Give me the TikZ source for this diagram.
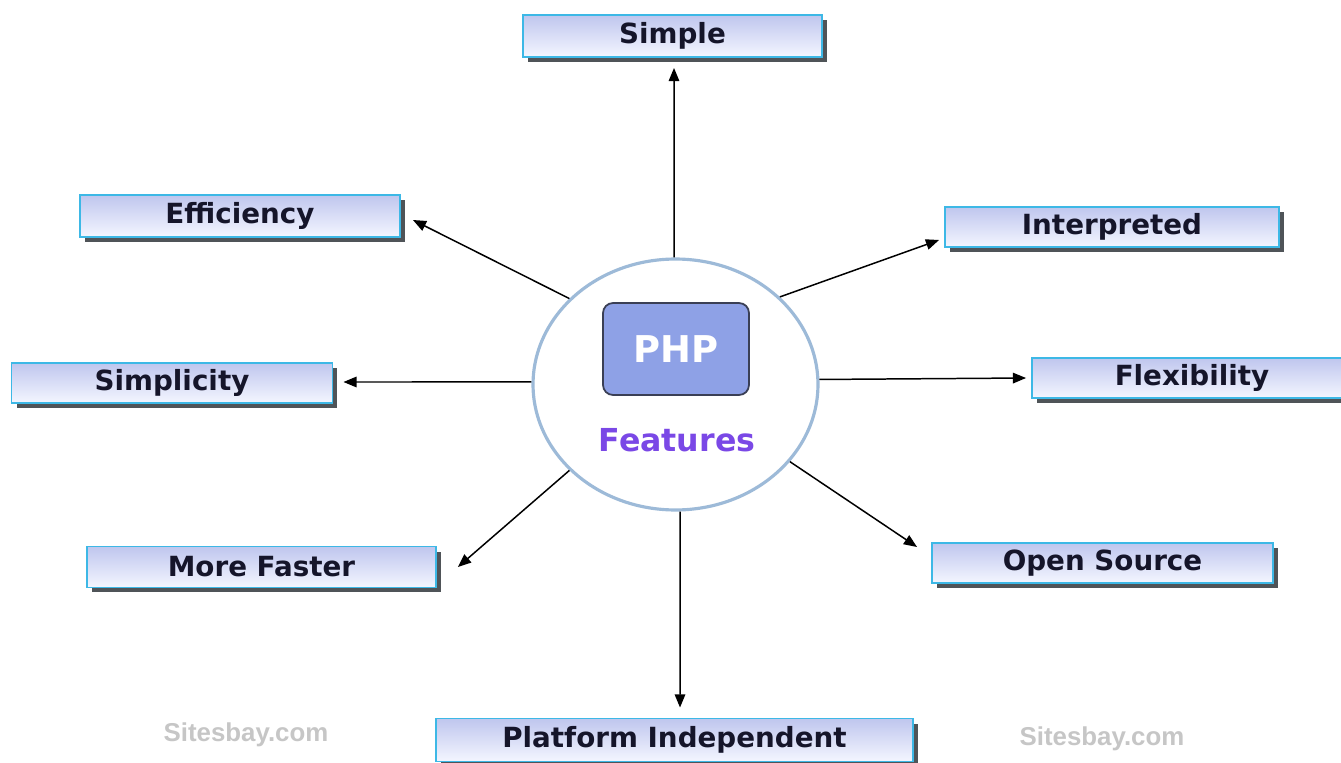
\documentclass[tikz,border=0pt]{standalone}
\usepackage{fontspec}
\setmainfont{DejaVu Sans}
\newfontfamily\wmfont{Liberation Sans}
\usetikzlibrary{shapes.geometric,shadows,arrows.meta}
\definecolor{boxborder}{HTML}{3DB8E6}
\definecolor{boxtop}{HTML}{BFC6EE}
\definecolor{boxbot}{HTML}{F4F6FF}
\definecolor{shadowgray}{HTML}{4F5458}
\definecolor{circcol}{HTML}{9DBAD8}
\definecolor{phpfill}{HTML}{8EA1E6}
\definecolor{phpborder}{HTML}{3A3F55}
\definecolor{featcol}{HTML}{7A48E6}
\definecolor{txtcol}{HTML}{15152A}
\definecolor{wmcol}{HTML}{C6C6C6}
\tikzset{
  featbox/.style={draw=boxborder, line width=1.1pt, top color=boxtop, bottom color=boxbot,
    text=txtcol, inner sep=0pt, font=\bfseries\fontsize{15.8}{18}\selectfont,
    drop shadow={shadow xshift=0.1cm, shadow yshift=-0.1cm, fill=shadowgray, opacity=1}},
  arr/.style={draw=black, line width=0.85pt, -{Triangle[length=7.5pt,width=6pt]}},
  wm/.style={text=wmcol, font=\wmfont\bfseries\fontsize{14.7}{17}\selectfont, inner sep=0pt}
}
\begin{document}
\begin{tikzpicture}[x=0.02cm,y=-0.02cm]
\useasboundingbox (0,0) rectangle (1341,763);
\fill[white] (0,0) rectangle (1341,763);
% feature boxes
\node[featbox, minimum width=5.98cm, minimum height=0.84cm] (simple) at (672.5,36) {Simple};
\node[featbox, minimum width=6.4cm, minimum height=0.84cm] (eff) at (240,216) {Efficiency};
\node[featbox, minimum width=6.68cm, minimum height=0.8cm] (interp) at (1112,227) {Interpreted};
\node[featbox, minimum width=6.42cm, minimum height=0.8cm] (simpl) at (172,383) {Simplicity};
\node[featbox, minimum width=6.4cm, minimum height=0.8cm] (flex) at (1192,378) {Flexibility};
\node[featbox, minimum width=6.98cm, minimum height=0.82cm] (mf) at (261.5,567) {More Faster};
\node[featbox, minimum width=6.82cm, minimum height=0.8cm] (os) at (1102.5,563) {Open Source};
\node[featbox, minimum width=9.54cm, minimum height=0.86cm] (pi) at (674.5,740) {Platform Independent};
% central circle
\node[ellipse, draw=circcol, line width=1.8pt, fill=white, inner sep=0pt,
      minimum width=5.7cm, minimum height=5.02cm] (circ) at (675.5,384.5) {};
\node[draw=phpborder, line width=1pt, fill=phpfill, rounded corners=0.2cm,
      minimum width=2.92cm, minimum height=1.84cm, inner sep=0pt,
      text=white, font=\bfseries\fontsize{21}{24}\selectfont] (php) at (676,349) {PHP};
\node[text=featcol, font=\bfseries\fontsize{18}{21}\selectfont, inner sep=0pt] (feat) at (677,440) {Features};
% connectors
\draw[arr] ([xshift=-0.03cm]circ.north) -- ([shift={(1.5,10)}]simple.south);
\draw[arr] (circ.141.8) -- ([shift={(12,4)}]eff.east);
\draw[arr] (circ.40.1) -- ([shift={(-5,13)}]interp.west);
\draw[arr] (circ.179) -- ([shift={(10,-1)}]simpl.east);
\draw[arr] (circ.2.6) -- ([shift={(-5,0)}]flex.west);
\draw[arr] (circ.219.7) -- ([shift={(21,0)}]mf.east);
\draw[arr] (circ.326.4) -- ([shift={(-14,-16)}]os.west);
\draw[arr] ([xshift=0.09cm]circ.south) -- ([shift={(5.5,-10)}]pi.north);
% watermarks
\node[wm] (wm1) at (246,735) {Sitesbay.com};
\node[wm] (wm2) at (1102,739) {Sitesbay.com};
\end{tikzpicture}
\end{document}
